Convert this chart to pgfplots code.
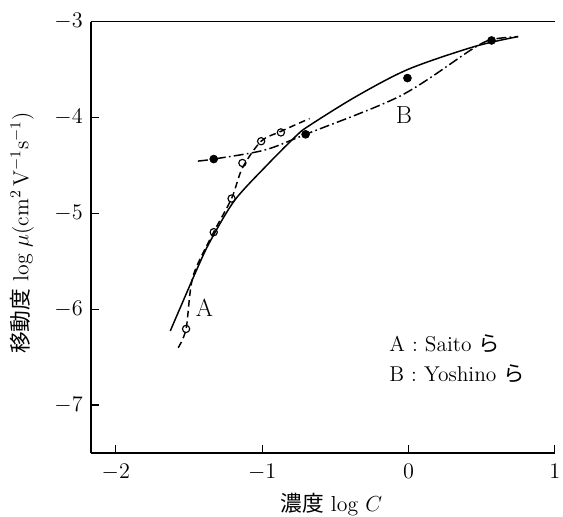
\RequirePackage{fix-cm}
\documentclass[border=0pt]{standalone}
\usepackage{fontspec}
\usepackage{pgfplots}
\pgfplotsset{compat=1.18}
\newfontfamily\jp{Noto Sans CJK JP}
\begin{document}
\begin{tikzpicture}
\begin{axis}[name=ax,
  scale only axis, width=281.4pt, height=261.6pt,
  xmin=-2.17, xmax=1.0, ymin=-7.5, ymax=-3,
  axis lines=left, axis line style={-, line width=0.9pt},
  tick align=inside, major tick length=5pt,
  tick style={line width=0.7pt, black},
  xtick={-2,-1,0,1}, ytick={-7,-6,-5,-4,-3},
  tick label style={font=\fontsize{13.5}{16}\selectfont},
  yticklabel style={xshift=-1.5pt},
  xticklabel style={yshift=-3pt},
  clip=false,
  xlabel={{\jp 濃度} log $C$},
  ylabel={{\jp 移動度} log $\mu$(cm$^2$\,V$^{-1}$s$^{-1}$)},
  every axis y label/.style={at={(axis description cs:-0.149,0.51)}, rotate=90, anchor=center, font=\fontsize{13.2}{16}\selectfont},
  every axis x label/.style={at={(axis description cs:0.518,-0.119)}, anchor=center, font=\fontsize{13.2}{16}\selectfont},
]
\draw[line width=0.9pt] (rel axis cs:0,1) -- (rel axis cs:1,1);
% solid curve
\addplot[black, line width=0.9pt, smooth] coordinates {
(-1.628,-6.227) (-1.453,-5.608) (-1.358,-5.299) (-1.189,-4.866) (-0.966,-4.495)
(-0.764,-4.186) (-0.676,-4.082) (-0.358,-3.78) (0,-3.495) (0.453,-3.258) (0.75,-3.155)};
% dashed curve (A)
\addplot[black, line width=0.9pt, smooth, dash pattern=on 4pt off 2.5pt] coordinates {
(-1.574,-6.402) (-1.52,-6.206) (-1.473,-5.66) (-1.331,-5.196) (-1.209,-4.845)
(-1.135,-4.526) (-1.007,-4.247) (-0.872,-4.144) (-0.676,-4.01)};
% dash-dot curve (B)
\addplot[black, line width=0.9pt, smooth, dash pattern=on 6pt off 2pt on 1pt off 2pt] coordinates {
(-1.439,-4.454) (-1.331,-4.433) (-0.986,-4.34) (-0.703,-4.175) (-0.054,-3.773)
(0.432,-3.289) (0.568,-3.186) (0.75,-3.155)};
% open points
\addplot[only marks, mark=o, mark size=2.2pt, mark options={line width=0.7pt, fill=white}] coordinates {
(-1.52,-6.206) (-1.331,-5.196) (-1.209,-4.845) (-1.135,-4.474) (-1.007,-4.247) (-0.872,-4.155)};
% filled points
\addplot[only marks, mark=*, mark size=2.4pt, black] coordinates {
(-1.331,-4.433) (-0.703,-4.175) (-0.007,-3.588) (0.568,-3.195)};
\node[font=\fontsize{15}{17}\selectfont] at (axis cs:-1.395,-5.99) {A};
\node[font=\fontsize{15}{17}\selectfont] at (axis cs:-0.03,-3.97) {B};
\node[anchor=west, font=\fontsize{13}{16}\selectfont] at (axis cs:-0.17,-6.36) {A : Saito {\jp ら}};
\node[anchor=west, font=\fontsize{13}{16}\selectfont] at (axis cs:-0.17,-6.67) {B : Yoshino {\jp ら}};
\end{axis}
\pgfresetboundingbox
\path ([xshift=-55.2pt,yshift=-38.4pt]ax.south west) rectangle ([xshift=5pt,yshift=13.2pt]ax.north east);
\end{tikzpicture}
\end{document}
